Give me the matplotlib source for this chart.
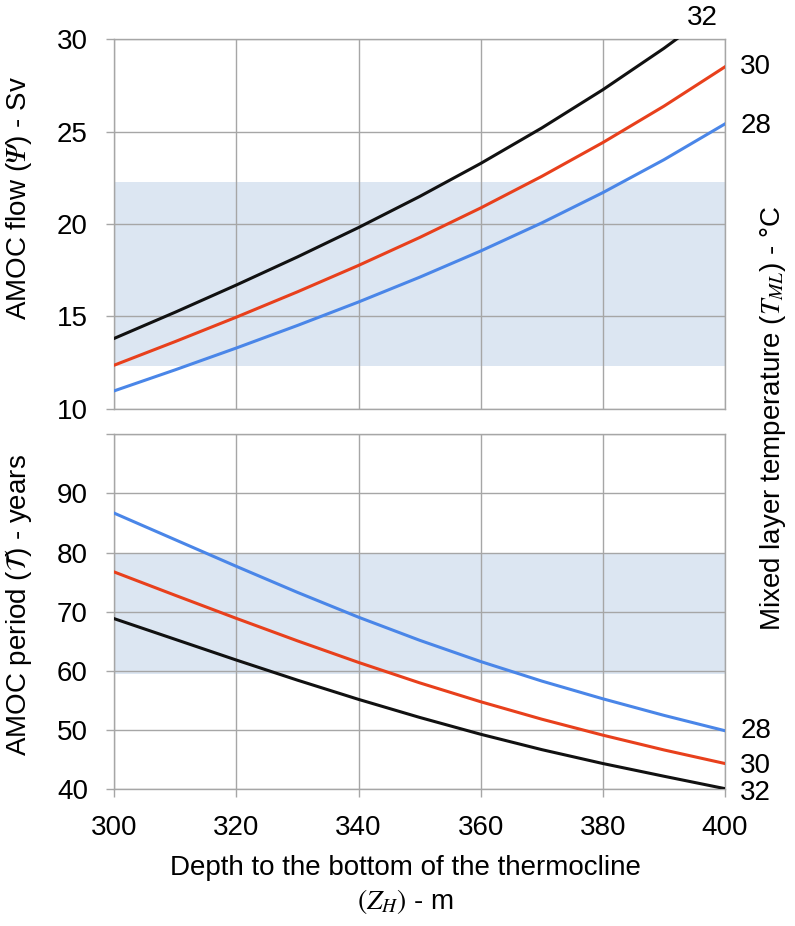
import matplotlib.pyplot as plt
import numpy as np

plt.rcParams['font.family'] = ['Liberation Sans', 'DejaVu Sans']
plt.rcParams['mathtext.fontset'] = 'stix'

# depth to the bottom of the thermocline (m)
depth = [300, 310, 320, 330, 340, 350, 360, 370, 380, 390, 400]

# AMOC flow (Sv) for mixed layer temperature 28, 30, 32 C
flow_28 = [10.97, 12.11, 13.29, 14.51, 15.78, 17.12, 18.54, 20.06, 21.70, 23.48, 25.42]
flow_30 = [12.36, 13.64, 14.96, 16.33, 17.76, 19.27, 20.87, 22.58, 24.41, 26.38, 28.51]
flow_32 = [13.81, 15.23, 16.70, 18.22, 19.81, 21.49, 23.28, 25.20, 27.27, 29.51, 31.94]

# AMOC period (years)
period_28 = [86.65, 82.15, 77.65, 73.25, 69.05, 65.15, 61.55, 58.25, 55.25, 52.45, 49.85]
period_30 = [76.7, 72.75, 68.85, 65.05, 61.4, 57.95, 54.75, 51.8, 49.1, 46.6, 44.3]
period_32 = [68.8, 65.3, 61.8, 58.4, 55.15, 52.1, 49.25, 46.65, 44.3, 42.15, 40.05]

# observed ranges (shaded)
flow_band = (12.33, 22.3)
period_band = (59.5, 80.0)

temps = ['28', '30', '32']
colors = ['#4a86e8', '#e8401c', '#111111']
grid_c = '#a6a6a6'

fig = plt.figure(figsize=(7.95, 9.26), dpi=100)
ax1 = fig.add_axes([0.1438, 0.5586, 0.7682, 0.399])
ax2 = fig.add_axes([0.1438, 0.148, 0.7682, 0.383])


def style(ax):
    for s in ax.spines.values():
        s.set_color(grid_c)
        s.set_linewidth(1.0)
    ax.grid(True, color=grid_c, linewidth=1.0)
    ax.set_axisbelow(True)
    ax.tick_params(axis='both', colors=grid_c, length=6, width=1.0,
                   labelsize=20, labelcolor='black', pad=13)
    ax.set_xlim(300, 400)
    ax.set_xticks([300, 320, 340, 360, 380, 400])


style(ax1)
ax1.set_ylim(10, 30)
ax1.set_yticks([10, 15, 20, 25, 30])
ax1.tick_params(axis='x', length=0, labelbottom=False)
ax1.axhspan(flow_band[0], flow_band[1], color='#dce6f2', zorder=0.5, lw=0)
for ys, c in zip([flow_28, flow_30, flow_32], colors):
    ax1.plot(depth, ys, color=c, lw=2.2, zorder=3, solid_joinstyle='round')

style(ax2)
ax2.set_ylim(40, 100)
ax2.set_yticks([40, 50, 60, 70, 80, 90, 100])
ax2.set_yticklabels(['40', '50', '60', '70', '80', '90', ''])
ax2.axhspan(period_band[0], period_band[1], color='#dce6f2', zorder=0.5, lw=0)
for ys, c in zip([period_28, period_30, period_32], colors):
    ax2.plot(depth, ys, color=c, lw=2.2, zorder=3, solid_joinstyle='round')

# curve labels at the right end
ax1.text(396.2, 31.15, temps[2], fontsize=20, ha='center', va='center', clip_on=False)
ax1.text(402.5, flow_30[-1], temps[1], fontsize=20, ha='left', va='center', clip_on=False)
ax1.text(402.5, flow_28[-1] - 0.1, temps[0], fontsize=20, ha='left', va='center', clip_on=False)
ax2.text(402.5, period_28[-1], temps[0], fontsize=20, ha='left', va='center', clip_on=False)
ax2.text(402.5, period_30[-1] - 0.5, temps[1], fontsize=20, ha='left', va='center', clip_on=False)
ax2.text(402.5, period_32[-1] - 0.7, temps[2], fontsize=20, ha='left', va='center', clip_on=False)

fig.text(19 / 795, 1 - 198 / 926, r'AMOC flow ($\mathrm{𝛹}$) - Sv', rotation=90,
         fontsize=20, ha='center', va='center')
fig.text(19 / 795, 1 - 605 / 926, r'AMOC period ($\mathcal{T}$) - years', rotation=90,
         fontsize=20, ha='center', va='center')
fig.text(773 / 795, 1 - 418 / 926, r'Mixed layer temperature ($T_{ML}$) - °C', rotation=90,
         fontsize=20, ha='center', va='center')
fig.text(405 / 795, 1 - 868 / 926, 'Depth to the bottom of the thermocline',
         fontsize=20, ha='center', va='center')
fig.text(406 / 795, 1 - 901 / 926, r'$(Z_H)$ - m', fontsize=20, ha='center', va='center')

fig.savefig('out.png', dpi=100)
